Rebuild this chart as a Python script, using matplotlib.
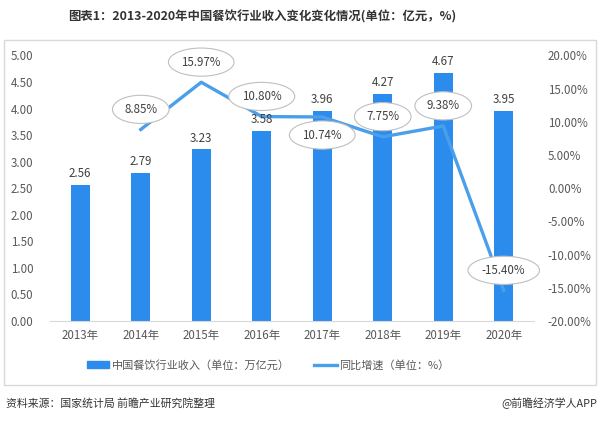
import matplotlib
matplotlib.use("Agg")
import matplotlib.pyplot as plt
from matplotlib.patches import Rectangle
from matplotlib.lines import Line2D

plt.rcParams['font.family'] = ['Noto Sans CJK SC', 'DejaVu Sans']

years = ['2013年', '2014年', '2015年', '2016年', '2017年', '2018年', '2019年', '2020年']
revenue = [2.56, 2.79, 3.23, 3.58, 3.96, 4.27, 4.67, 3.95]
growth_years_idx = [1, 2, 3, 4, 5, 6, 7]
growth = [8.85, 15.97, 10.80, 10.74, 7.75, 9.38, -15.40]
label_below = [False, False, False, True, False, False, False]

left_ticks = [0, 0.5, 1.0, 1.5, 2.0, 2.5, 3.0, 3.5, 4.0, 4.5, 5.0]
right_ticks = [-20, -15, -10, -5, 0, 5, 10, 15, 20]

bar_color = '#2B8CEE'
line_color = '#4A9FEA'
text_color = '#595959'

W, H = 600, 421
fig = plt.figure(figsize=(W / 100, H / 100), dpi=100)

# outer frame
fig.patches.append(Rectangle((4 / W, 1 - 385 / H), 592 / W, 345 / H, transform=fig.transFigure,
                             fill=False, edgecolor='#d9d9d9', linewidth=1))

ax = fig.add_axes([50 / W, 1 - 321 / H, 484 / W, 265.5 / H])
x = list(range(len(years)))
ax.bar(x, revenue, width=0.31, color=bar_color, zorder=2)
ax.set_xlim(-0.5, len(years) - 0.5)
ax.set_ylim(0, 5)
ax.set_yticks(left_ticks)
ax.set_yticklabels([f'{v:.2f}' for v in left_ticks], color=text_color, fontsize=8.3)
ax.set_xticks(x)
ax.set_xticklabels(years, color=text_color, fontsize=8.3)
ax.tick_params(length=0)
ax.tick_params(axis='y', pad=12)
ax.tick_params(axis='x', pad=6)
for s in ['top', 'left', 'right']:
    ax.spines[s].set_visible(False)
ax.spines['bottom'].set_color('#d9d9d9')

ax2 = ax.twinx()
ax2.set_ylim(-20, 20)
ax2.plot(growth_years_idx, growth, color=line_color, linewidth=2.4, zorder=3)
ax2.set_yticks(right_ticks)
ax2.set_yticklabels([f'{v:.2f}%' for v in right_ticks], color=text_color, fontsize=8.3)
ax2.tick_params(length=0, pad=10)
for s in ['top', 'left', 'right', 'bottom']:
    ax2.spines[s].set_visible(False)

# bar value labels drawn on top of the line
for xi, v in zip(x, revenue):
    ax2.annotate(f'{v:.2f}', (xi, v), xycoords=ax.transData, xytext=(0, 3.5),
                 textcoords='offset points', ha='center', va='bottom', fontsize=8.3,
                 color='#404040', zorder=4)

for xi, g, below in zip(growth_years_idx, growth, label_below):
    off = -13 if below else 14.5
    ax2.annotate(f'{g:.2f}%', (xi, g), xytext=(0, off), textcoords='offset points',
                 ha='center', va='center', fontsize=8.3, color='#404040', zorder=5,
                 bbox=dict(boxstyle='ellipse,pad=0.3', fc='white', ec='#bfbfbf', lw=0.8))

handles = [Rectangle((0, 0), 1, 1, color=bar_color),
           Line2D([0], [0], color=line_color, linewidth=2.4)]
fig.legend(handles, ['中国餐饮行业收入（单位：万亿元）', '同比增速（单位：%）'],
           loc='center', bbox_to_anchor=(0.447, 1 - 365 / H), ncol=2, frameon=False,
           fontsize=8, labelcolor=text_color, handlelength=2.0, handleheight=0.6,
           handletextpad=0.25, columnspacing=2.2)

fig.text(262 / W, 1 - 17 / H, '图表1：2013-2020年中国餐饮行业收入变化变化情况(单位：亿元，%)',
         ha='center', va='center', fontsize=8.9, fontweight='bold', color='#333333')
fig.text(6 / W, 1 - 403 / H, '资料来源：国家统计局 前瞻产业研究院整理', ha='left', va='center',
         fontsize=7.8, color='#333333')
fig.text(597 / W, 1 - 403 / H, '@前瞻经济学人APP', ha='right', va='center',
         fontsize=7.8, color='#333333')

fig.savefig('out.png', dpi=100)
